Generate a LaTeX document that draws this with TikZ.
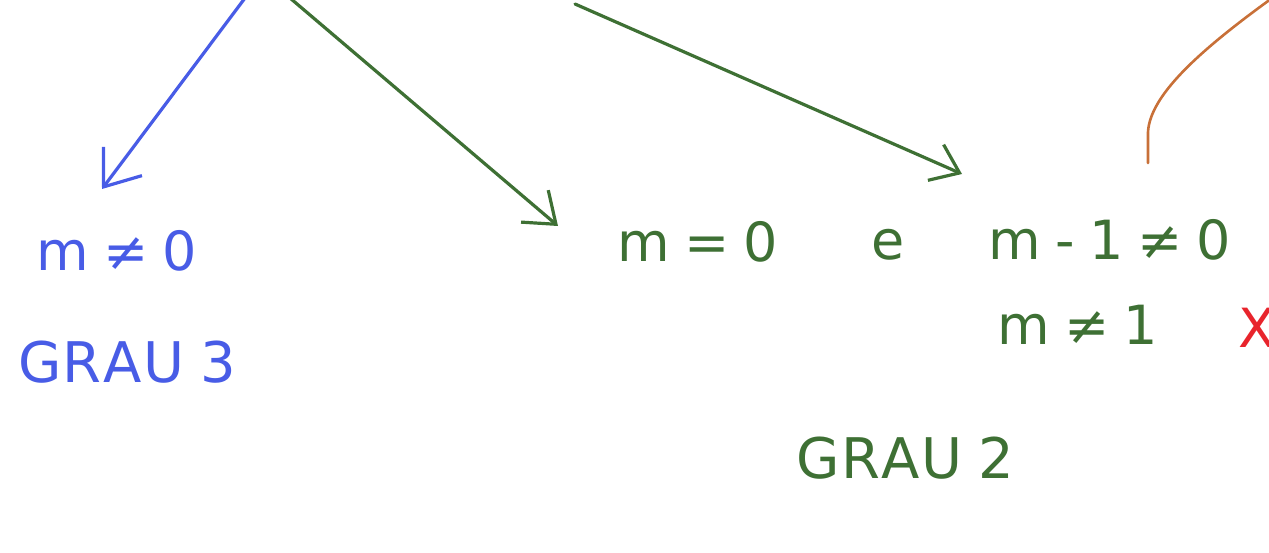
\documentclass[tikz,border=0pt]{standalone}
\usepackage{fontspec}
\setmainfont{DejaVu Sans}
\usetikzlibrary{arrows.meta}
\definecolor{pblue}{RGB}{72,92,230}
\definecolor{pgreen}{RGB}{62,112,52}
\definecolor{porange}{RGB}{200,112,56}
\definecolor{pred}{RGB}{232,36,44}
\newcommand{\gp}{\hspace{14pt}}
\newcommand{\lk}{\kern1.5pt}
\tikzset{
  lbl/.style={inner sep=0pt, font=\fontsize{54}{60}\selectfont},
  grau/.style={inner sep=0pt, font=\fontsize{56}{62}\selectfont},
  conn/.style={line width=3.2pt, line cap=round},
  barb/.style={-{Straight Barb[length=#1, width=1.5*#1, line width=3.2pt]}},
}
\begin{document}
\begin{tikzpicture}[x=1pt,y=-1pt]
\useasboundingbox (0,0) rectangle (1269,553);
% coordinates (sources outside the picture)
\coordinate (sb) at (245,-2);
\coordinate (sg1) at (290,-2);
\coordinate (sg2) at (575,4);
\coordinate (so) at (1275,-4);
% blue branch
\node[lbl, text=pblue] (n3) at (117,251) {m\gp≠\gp0};
\node[grau, text=pblue] (g3) at (127,362) {G\lk R\lk A\lk U\hspace{16pt}3};
% green branch
\node[lbl, text=pgreen] (m0) at (698,242) {m\gp=\gp0};
\node[lbl, text=pgreen] (e) at (888,245) {e};
\node[lbl, text=pgreen] (m1) at (1110,240) {m\gp-\gp1\gp≠\gp0};
\node[lbl, text=pgreen] (mne1) at (1078,325) {m\gp≠\gp1};
\node[lbl, text=pred, anchor=west] (x) at (1238,328) {X};
\node[grau, text=pgreen] (g2) at (905,458) {G\lk R\lk A\lk U\hspace{16pt}2};
\coordinate (t1) at (102,189);
\coordinate (t2) at (558,226);
\coordinate (t3) at (962,174);
\coordinate (ob) at (1148,163);
% connectors
\draw[conn, pblue, barb=32pt] (sb) -- (t1);
\draw[conn, pgreen, barb=28pt] (sg1) -- (t2);
\draw[conn, pgreen, barb=26pt] (sg2) -- (t3);
\draw[conn, porange, line width=2.6pt] (ob) -- (1148,132) .. controls (1150,95) and (1200,50) .. (so);
\end{tikzpicture}
\end{document}
